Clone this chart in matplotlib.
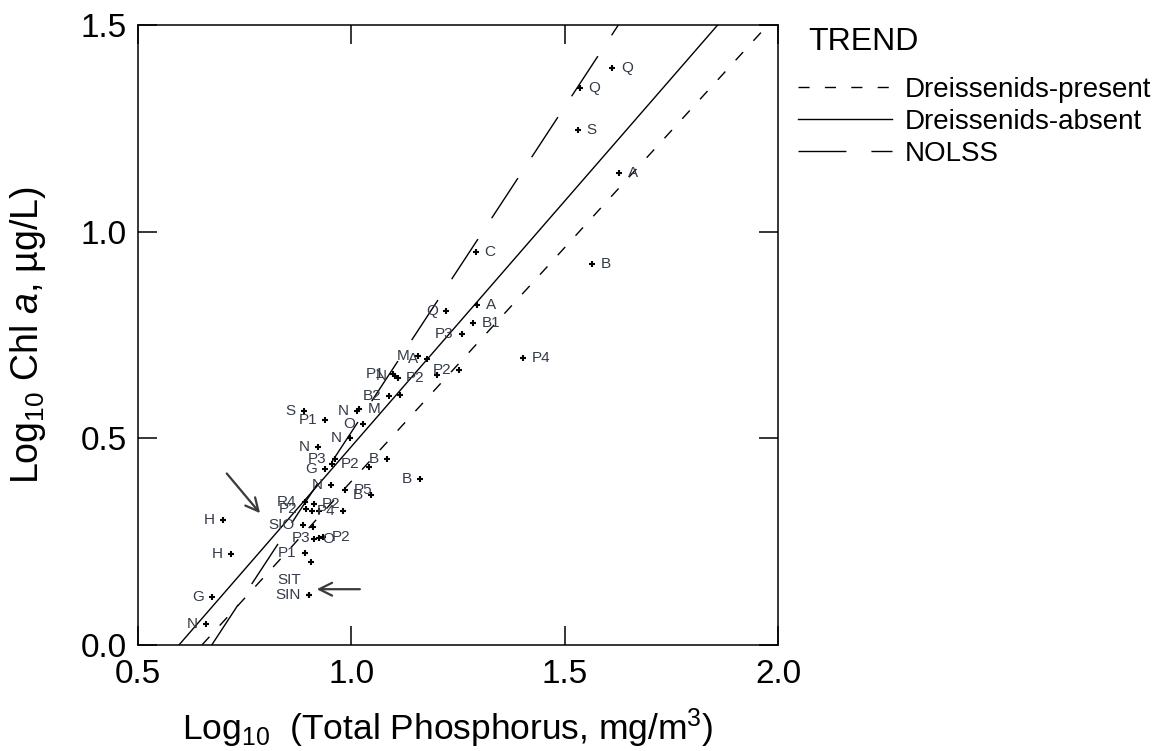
import numpy as np
import matplotlib
matplotlib.use("Agg")
import matplotlib.pyplot as plt

# log10 total phosphorus (x) and log10 chl a (y) per site, with site codes
tp = [1.612, 1.536, 1.532, 1.628, 1.292, 1.565, 1.295, 1.222, 1.286, 1.259,
      1.403, 1.156, 1.177, 1.098, 1.103, 1.109, 1.253, 1.201, 1.089, 1.115,
      0.889, 0.939, 1.014, 1.019, 1.028, 0.997, 0.923, 0.962, 0.955, 0.938,
      1.083, 1.041, 1.161, 0.952, 1.047, 0.985, 0.891, 0.912, 0.894, 0.981,
      0.907, 0.925, 0.700, 0.887, 0.911, 0.924, 0.912, 0.934, 0.891, 0.905,
      0.718, 0.901, 0.901, 0.674, 0.659]
chl = [1.395, 1.348, 1.246, 1.141, 0.952, 0.921, 0.823, 0.809, 0.778, 0.752,
       0.695, 0.700, 0.692, 0.656, 0.650, 0.647, 0.665, 0.653, 0.602, 0.605,
       0.566, 0.544, 0.566, 0.571, 0.534, 0.502, 0.480, 0.449, 0.438, 0.425,
       0.449, 0.431, 0.401, 0.387, 0.363, 0.375, 0.345, 0.342, 0.329, 0.324,
       0.323, 0.323, 0.302, 0.290, 0.286, 0.258, 0.256, 0.261, 0.222, 0.202,
       0.219, 0.121, 0.121, 0.115, 0.051]
site = ["Q", "Q", "S", "A", "C", "B", "A", "Q", "B1", "P3",
        "P4", "M", "A", "P1", "N", "P2", "P2", "", "B2", "",
        "S", "P1", "N", "M", "O", "N", "N", "P3", "P2", "G",
        "B", "", "B", "N", "B", "P5", "R4", "P2", "P2", "P4",
        "", "", "H", "SIO", "", "P3", "O", "P2", "P1", "",
        "H", "SIT", "SIN", "G", "N"]
# which side of the point the code is written on
side = ["r", "r", "r", "r", "r", "r", "r", "l", "r", "l",
        "r", "l", "l", "l", "l", "r", "l", "l", "l", "l",
        "l", "l", "l", "r", "l", "l", "l", "l", "r", "l",
        "l", "l", "l", "l", "l", "r", "l", "r", "l", "l",
        "l", "l", "l", "l", "l", "l", "r", "r", "l", "l",
        "l", "lu", "l", "l", "l"]

# fitted trends: log chl = slope * log tp + intercept
trend_names = ["Dreissenids-present", "Dreissenids-absent", "NOLSS"]
trend_slope = [1.131, 1.188, 1.574]
trend_icpt = [-0.735, -0.708, -1.059]
trend_dash = [(0, (8, 11)), "-", (0, (34.5, 18))]

plt.rcParams["font.family"] = ["Liberation Sans", "DejaVu Sans"]
plt.rcParams["mathtext.fontset"] = "custom"
plt.rcParams["mathtext.rm"] = "Liberation Sans"
plt.rcParams["mathtext.it"] = "Liberation Sans:italic"

fig = plt.figure(figsize=(11.75, 7.51), dpi=100)
ax = fig.add_axes([138 / 1175, 106 / 751, 640 / 1175, 620 / 751])

handles = []
for m, b, ls in zip(trend_slope, trend_icpt, trend_dash):
    x0 = -b / m
    x1 = min((1.5 - b) / m, 2.0)
    xs = np.array([x0, x1])
    ln, = ax.plot(xs, m * xs + b, color="black", lw=1.0, linestyle=ls)
    handles.append(ln)

ax.plot(tp, chl, linestyle="none", marker="+", ms=4.5, mew=1.5, color="black")

lab_color = "#333a48"
for x, y, s, sd in zip(tp, chl, site, side):
    if not s:
        continue
    if sd == "r":
        off, ha = (6, 0), "left"
    elif sd == "lu":
        off, ha = (-6, 11), "right"
    else:
        off, ha = (-6, 0), "right"
    ax.annotate(s, (x, y), xytext=off, textcoords="offset points",
                ha=ha, va="center", fontsize=11, color=lab_color)

# arrows pointing at the two highlighted sites
arrow_kw = dict(arrowstyle="->", color="#3a3a3a", lw=1.6, mutation_scale=23,
                shrinkA=0, shrinkB=0)
ax.annotate("", xy=(0.786, 0.319), xytext=(0.708, 0.415), arrowprops=arrow_kw)
ax.annotate("", xy=(0.919, 0.135), xytext=(1.020, 0.135), arrowprops=arrow_kw)

ax.set_xlim(0.5, 2.0)
ax.set_ylim(0.0, 1.5)
ax.set_xticks([0.5, 1.0, 1.5, 2.0])
ax.set_yticks([0.0, 0.5, 1.0, 1.5])
ax.xaxis.set_major_formatter(plt.FormatStrFormatter("%.1f"))
ax.yaxis.set_major_formatter(plt.FormatStrFormatter("%.1f"))
ax.tick_params(direction="in", length=14, width=1.1, top=True, right=True,
               labelsize=24, colors="black")
ax.tick_params(axis="x", pad=10)
ax.tick_params(axis="y", pad=8)
for sp in ax.spines.values():
    sp.set_linewidth(1.1)

ax.set_xlabel(r"Log$_{10}$  (Total Phosphorus, mg/m$^{3}$)", fontsize=25.5)
ax.set_ylabel(r"Log$_{10}$ Chl $a$, µg/L)", fontsize=27)
ax.xaxis.set_label_coords(0.484, -0.100)
ax.yaxis.set_label_coords(-0.140, 0.5)

fig.text(808 / 1175, 1 - 42 / 751, "TREND", fontsize=23, va="center", ha="left")
fig.legend(handles, trend_names, loc="upper left",
           bbox_to_anchor=(798 / 1175, 1 - 77 / 751), bbox_transform=fig.transFigure,
           frameon=False, fontsize=20, handlelength=3.4, handletextpad=0.45,
           labelspacing=0.22, borderpad=0, borderaxespad=0)

fig.savefig("out.png", dpi=100)
